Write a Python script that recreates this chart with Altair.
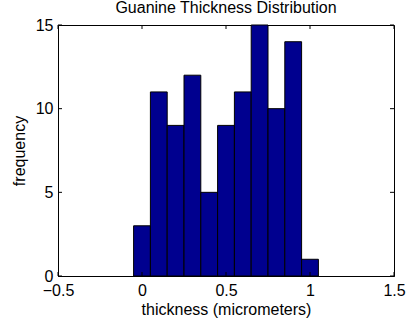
import altair as alt
import pandas as pd

bin_centers = [0.0, 0.1, 0.2, 0.3, 0.4, 0.5, 0.6, 0.7, 0.8, 0.9, 1.0]
counts = [3, 11, 9, 12, 5, 9, 11, 15, 10, 14, 1]
x_ticks = [-0.5, 0, 0.5, 1, 1.5]
y_ticks = [0, 5, 10, 15]
bin_width = 0.1

df = pd.DataFrame({
    "start": [c - bin_width / 2 for c in bin_centers],
    "end": [c + bin_width / 2 for c in bin_centers],
    "count": counts,
})
xt = pd.DataFrame({"v": x_ticks})
yt = pd.DataFrame({"v": y_ticks})

FONT = "Liberation Sans"
W, H = 336, 251

xscale = alt.Scale(domain=[-0.5, 1.5], nice=False, zero=False)
yscale = alt.Scale(domain=[0, 15], nice=False)

bars = alt.Chart(df).mark_bar(color="#00008F", stroke="black", strokeWidth=1).encode(
    x=alt.X("start:Q", scale=xscale,
            axis=alt.Axis(values=x_ticks, ticks=False, labelPadding=6, grid=False,
                          title="thickness (micrometers)", titlePadding=3,
                          labelFlush=False, format="~g")),
    x2="end:Q",
    y=alt.Y("count:Q", scale=yscale,
            axis=alt.Axis(values=y_ticks, ticks=False, labelPadding=5, grid=False,
                          title="frequency", titlePadding=8)),
    y2=alt.datum(0),
)

tick_len = 4
xb = alt.Chart(xt).mark_rule(color="black").encode(
    x=alt.X("v:Q", scale=xscale), y=alt.value(H), y2=alt.value(H - tick_len))
xtop = alt.Chart(xt).mark_rule(color="black").encode(
    x=alt.X("v:Q", scale=xscale), y=alt.value(0), y2=alt.value(tick_len))
yl = alt.Chart(yt).mark_rule(color="black").encode(
    y=alt.Y("v:Q", scale=yscale), x=alt.value(0), x2=alt.value(tick_len))
yr = alt.Chart(yt).mark_rule(color="black").encode(
    y=alt.Y("v:Q", scale=yscale), x=alt.value(W), x2=alt.value(W - tick_len))

chart = alt.layer(bars, xb, xtop, yl, yr).properties(
    width=W, height=H,
    title=alt.Title("Guanine Thickness Distribution", fontSize=16, font=FONT,
                    fontWeight="normal", color="black", offset=1),
    autosize=alt.AutoSizeParams(type="none"),
    padding={"left": 58, "top": 25, "right": 12, "bottom": 48},
).configure_axis(
    labelFont=FONT, titleFont=FONT, labelFontSize=16, titleFontSize=16,
    labelColor="black", titleColor="black", titleFontWeight="normal",
    domainColor="black", domainWidth=1,
).configure_view(stroke="black", strokeWidth=1)

chart.save("out.html", embed_options={"renderer": "svg", "actions": False})
